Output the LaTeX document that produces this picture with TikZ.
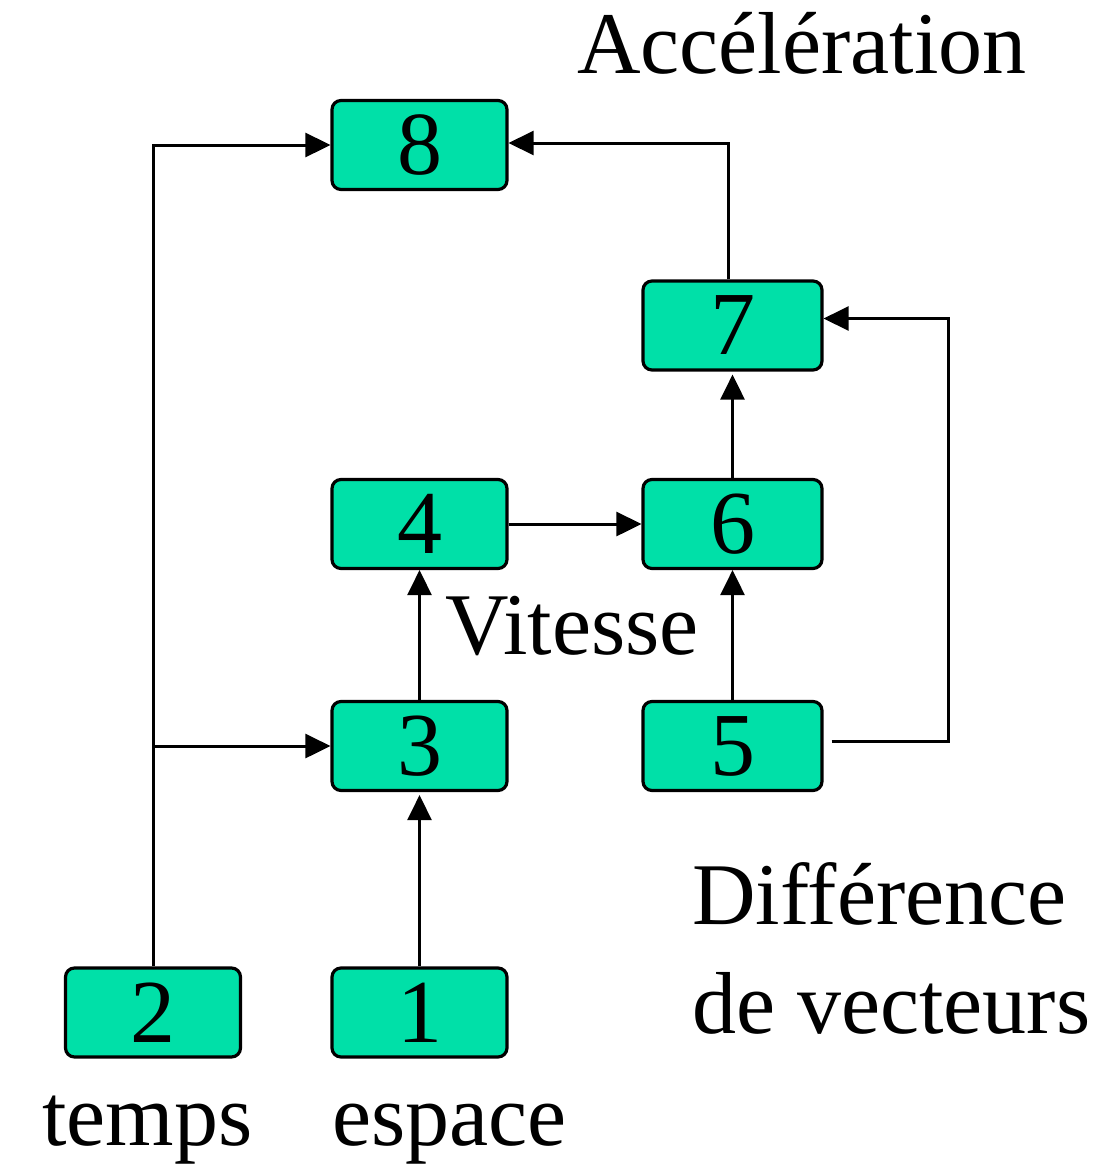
\documentclass[tikz,border=0pt]{standalone}
\usepackage{fontspec}
\setmainfont{Liberation Serif}
\usetikzlibrary{arrows.meta}
\definecolor{boxgreen}{RGB}{0,224,168}
\begin{document}
\begin{tikzpicture}[x=1pt,y=-1pt,
  stage/.style={draw=black,line width=3.2pt,fill=boxgreen,rounded corners=9pt,
    minimum width=175pt,minimum height=89pt,inner sep=0pt,
    font=\fontsize{90}{90}\selectfont},
  wide/.style={minimum width=179pt},
  lbl/.style={anchor=base west,inner sep=0pt,font=\fontsize{88}{100}\selectfont},
  link/.style={line width=3pt},
  arr/.style={link,-{Triangle[length=25pt,width=24pt]}}]
\useasboundingbox (0,0) rectangle (1099,1164);

% processing stages
\node[stage] (n8) at (419.5,145) {8};
\node[stage,wide] (n7) at (732.5,325.5) {7};
\node[stage] (n4) at (419.5,524) {4};
\node[stage,wide] (n6) at (732.5,524) {6};
\node[stage] (n3) at (419.5,746) {3};
\node[stage,wide] (n5) at (732.5,746) {5};
\node[stage] (n2) at (153,1012.5) {2};
\node[stage] (n1) at (419.5,1012.5) {1};

% labels
\node[lbl] (tacc) at (577,74) {Accélération};
\node[lbl] (tvit) at (445,654) {Vitesse};
\node[lbl] (tdif) at (692,924) {Différence};
\node[lbl] (tvec) at (692,1033) {de vecteurs};
\node[lbl] (ttps) at (42,1145) {temps};
\node[lbl] (tesp) at (332,1145) {espace};

% connections
\draw[arr] (n2.north) |- (n8.west);
\draw[arr] (n2.north |- n3.west) -- (n3.west);
\draw[arr] (n1.north) -- ([yshift=-3pt]n3.south);
\draw[arr] (n3.north) -- (n4.south);
\draw[arr] (n4.east) -- (n6.west);
\draw[arr] (n5.north) -- (n6.south);
\draw[arr] (n6.north) -- ([yshift=-3pt]n7.south);
\draw[arr] ([xshift=-4pt]n7.north) |- ([yshift=2pt]n8.east);
\coordinate (rt) at (948,0);
\coordinate (in7) at ([yshift=7pt]n7.east);
\coordinate (out5) at ([xshift=8pt,yshift=5pt]n5.east);
\draw[arr] (out5) -- (out5 -| rt) -- (rt |- in7) -- (in7);
\end{tikzpicture}
\end{document}
